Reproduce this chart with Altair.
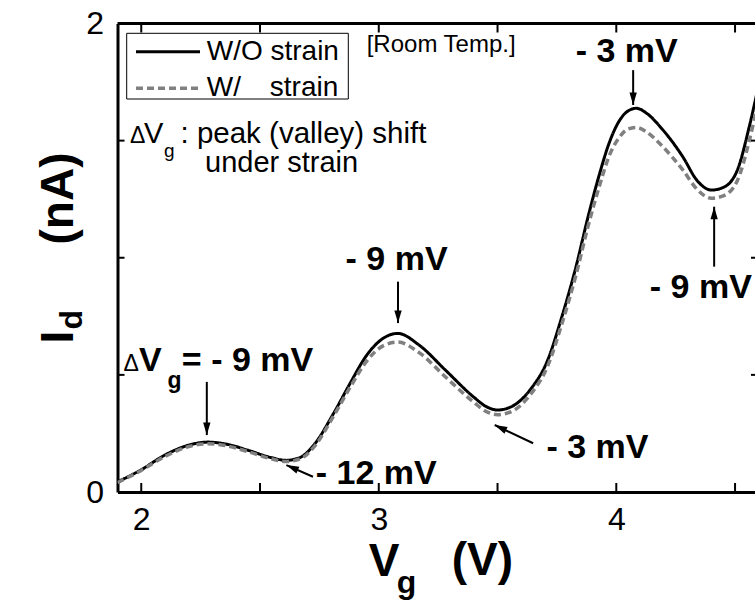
import math
import altair as alt
import pandas as pd

# Gate voltage (V) and drain current (nA), without and with strain
VG = [1.90, 2.00, 2.10, 2.20, 2.28, 2.36, 2.45, 2.55, 2.61, 2.67, 2.73, 2.81,
      2.88, 2.95, 3.02, 3.08, 3.17, 3.28, 3.40, 3.45, 3.50, 3.56, 3.64, 3.71,
      3.77, 3.83, 3.88, 3.93, 3.97, 4.01, 4.05, 4.085, 4.13, 4.19, 4.28, 4.34,
      4.40, 4.45, 4.51, 4.56, 4.60]
ID_NO_STRAIN = [0.043, 0.095, 0.158, 0.200, 0.213, 0.204, 0.178, 0.146, 0.135,
                0.148, 0.205, 0.336, 0.465, 0.585, 0.657, 0.677, 0.627, 0.521,
                0.405, 0.366, 0.350, 0.365, 0.440, 0.560, 0.745, 0.960, 1.170,
                1.360, 1.490, 1.580, 1.627, 1.638, 1.615, 1.553, 1.431, 1.330,
                1.289, 1.300, 1.375, 1.560, 1.740]
ID_STRAIN = [0.040, 0.092, 0.152, 0.194, 0.206, 0.197, 0.172, 0.141, 0.130,
             0.142, 0.196, 0.325, 0.448, 0.560, 0.625, 0.640, 0.595, 0.492,
             0.383, 0.345, 0.330, 0.344, 0.418, 0.535, 0.715, 0.925, 1.130,
             1.310, 1.435, 1.510, 1.550, 1.556, 1.535, 1.480, 1.375, 1.292,
             1.254, 1.264, 1.330, 1.500, 1.680]

SERIES = ["W/O strain", "W/ strain"]

X_TICKS = [2, 2.5, 3, 3.5, 4, 4.5]
X_LABELS = [2, 3, 4]
Y_TICKS = [0.5, 1, 1.5]
Y_LABELS = [0, 1, 2]

# Peak / valley shift arrows: tail (V, I) -> tip (V, I)
ARROW_TAIL_V = [2.276, 3.081, 4.071, 4.412, 3.650, 2.723]
ARROW_TAIL_I = [0.470, 0.898, 1.801, 0.962, 0.208, 0.065]
ARROW_TIP_V = [2.276, 3.081, 4.071, 4.412, 3.488, 2.611]
ARROW_TIP_I = [0.243, 0.721, 1.652, 1.218, 0.286, 0.115]

# ---- layout ----
FONT = "Liberation Sans"
W, H = 637.5, 468.5
X_MIN, X_MAX = 1.9, 4.584
Y_MIN, Y_MAX = 0.0, 2.0
PX_PER_V = W / (X_MAX - X_MIN)
PX_PER_NA = H / (Y_MAX - Y_MIN)

curves = pd.DataFrame({
    "vg": VG * 2,
    "id": ID_NO_STRAIN + ID_STRAIN,
    "series": [SERIES[0]] * len(VG) + [SERIES[1]] * len(VG),
})

x_scale = alt.Scale(domain=[X_MIN, X_MAX], nice=False, zero=False)
y_scale = alt.Scale(domain=[Y_MIN, Y_MAX], nice=False, zero=False)

x_axis = alt.Axis(values=X_LABELS, format="d", title=None, grid=False,
                  ticks=False, tickSize=0, domainColor="black", domainWidth=3,
                  labelFont=FONT, labelFontSize=32, labelColor="black",
                  labelPadding=12, labelOverlap=False)
y_axis = alt.Axis(values=Y_LABELS, format="d", title=None, grid=False,
                  ticks=False, tickSize=0, domainColor="black", domainWidth=3,
                  labelFont=FONT, labelFontSize=32, labelColor="black",
                  labelPadding=14, labelOverlap=False, labelFlush=False)


def curve(name, color, dash, width):
    return alt.Chart(curves[curves.series == name]).mark_line(
        clip=True, color=color, strokeDash=dash, strokeWidth=width,
        interpolate="monotone"
    ).encode(
        x=alt.X("vg:Q", scale=x_scale, axis=x_axis),
        y=alt.Y("id:Q", scale=y_scale, axis=y_axis),
    )


line_plain = curve(SERIES[0], "black", [1, 0], 3)
line_strain = curve(SERIES[1], "#808080", [7, 4], 3.5)

# ---- frame: top spine and inward ticks ----
ONE = pd.DataFrame({"k": [0]})
top_spine = alt.Chart(ONE).mark_rule(color="black", strokeWidth=3).encode(
    x=alt.value(0), x2=alt.value(W), y=alt.value(0))

xt = pd.DataFrame({"t": X_TICKS})
yt = pd.DataFrame({"t": Y_TICKS})
tick_style = dict(color="black", strokeWidth=2)
ticks_bottom = alt.Chart(xt).mark_rule(**tick_style).encode(
    x=alt.X("t:Q", title=None), y=alt.value(H), y2=alt.value(H - 9))
ticks_top = alt.Chart(xt).mark_rule(**tick_style).encode(
    x=alt.X("t:Q", title=None), y=alt.value(0), y2=alt.value(9))
ticks_left = alt.Chart(yt).mark_rule(**tick_style).encode(
    y=alt.Y("t:Q", title=None), x=alt.value(0), x2=alt.value(7))
ticks_right = alt.Chart(yt).mark_rule(**tick_style).encode(
    y=alt.Y("t:Q", title=None), x=alt.value(W - 4), x2=alt.value(W))

# ---- arrows ----
arrows = pd.DataFrame({
    "tv": ARROW_TAIL_V, "ti": ARROW_TAIL_I,
    "hv": ARROW_TIP_V, "hi": ARROW_TIP_I,
})
arrows["ang"] = [
    math.degrees(math.atan2((hv - tv) * PX_PER_V, (hi - ti) * PX_PER_NA)) % 360
    for tv, ti, hv, hi in zip(arrows.tv, arrows.ti, arrows.hv, arrows.hi)
]
arrow_shafts = alt.Chart(arrows).mark_rule(color="black", strokeWidth=2).encode(
    x=alt.X("tv:Q", title=None), y=alt.Y("ti:Q", title=None),
    x2="hv:Q", y2="hi:Q")
arrow_heads = alt.Chart(arrows).mark_point(
    shape="M0,0L0.7,2.4L-0.7,2.4Z", size=110, filled=True, color="black",
    opacity=1, strokeWidth=0
).encode(
    x=alt.X("hv:Q", title=None), y=alt.Y("hi:Q", title=None),
    angle=alt.Angle("ang:Q", scale=None))


# ---- text helpers ----
def text_px(text, x, y, size, bold=False, align="left", angle=0,
            baseline="alphabetic"):
    kw = dict(text=text, font=FONT, fontSize=size, color="black",
              fontWeight="bold" if bold else "normal", align=align,
              baseline=baseline)
    if angle:
        kw["angle"] = angle
    return alt.Chart(ONE).mark_text(**kw).encode(x=alt.value(x), y=alt.value(y))


def text_at(text, v, i, size=34, bold=True, align="center"):
    return alt.Chart(ONE).mark_text(
        text=text, font=FONT, fontSize=size, color="black",
        fontWeight="bold" if bold else "normal", align=align,
        baseline="alphabetic"
    ).encode(x=alt.datum(v), y=alt.datum(i))


shift_labels = [
    text_at("\u0394", 1.925, 0.5165, size=23, align="left", bold=False),
    text_at("V", 1.990, 0.5165, align="left"),
    text_at("g", 2.110, 0.444, size=23, align="left"),
    text_at("= - 9 mV", 2.171, 0.5165, align="left"),
    text_at("- 9 mV", 3.075, 0.948),
    text_at("- 3 mV", 4.044, 1.837),
    text_at("- 9 mV", 4.141, 0.827, align="left"),
    text_at("- 3 mV", 3.706, 0.144, align="left"),
    text_at("- 12 mV", 2.735, 0.034, align="left"),
]

# ---- legend box and notes ----
legend_box = alt.Chart(ONE).mark_rect(
    fill="white", stroke="black", strokeWidth=1
).encode(x=alt.value(9.2), x2=alt.value(230.8), y=alt.value(9.8),
         y2=alt.value(75.5))
legend_solid = alt.Chart(ONE).mark_rule(color="black", strokeWidth=3).encode(
    x=alt.value(18.5), x2=alt.value(82.5), y=alt.value(28.2))
legend_dash = alt.Chart(ONE).mark_rule(
    color="#808080", strokeWidth=3.5, strokeDash=[7, 4]
).encode(x=alt.value(18.5), x2=alt.value(82.5), y=alt.value(64.8))

notes = [
    text_px("W/O strain", 89.2, 28.2, 28, baseline="middle"),
    text_px("W/", 89.2, 64.8, 28, baseline="middle"),
    text_px("strain", 220.8, 64.8, 28, align="right", baseline="middle"),
    text_px("[Room Temp.]", 249.2, 21.5, 24, baseline="middle"),
    text_px("\u0394", 12.5, 119.5, 23),
    text_px("V", 26.5, 119.5, 29),
    text_px("g", 46.5, 133, 19),
    text_px(": peak (valley) shift", 63, 119.5, 29.5),
    text_px("under strain", 87.5, 148.5, 29),
]

# ---- axis titles ----
titles = [
    text_px("V", 266.5, 552.5, 46, bold=True, align="center"),
    text_px("g", 279.2, 569, 32, bold=True),
    text_px("(V)", 334.2, 551.5, 46, bold=True),
    text_px("I", -45, 320, 46, bold=True, angle=270),
    text_px("d", -36, 306, 32, bold=True, angle=270),
    text_px("(nA)", -45, 221, 46, bold=True, angle=270),
]

chart = alt.layer(
    line_plain, line_strain, top_spine,
    ticks_bottom, ticks_top, ticks_left, ticks_right,
    arrow_shafts, arrow_heads,
    legend_box, legend_solid, legend_dash,
    *shift_labels, *notes, *titles,
).properties(
    width=W, height=H,
    autosize=alt.AutoSizeParams(type="none"),
    padding={"left": 117.5, "top": 23.5, "right": 0, "bottom": 111},
    background="white",
).configure_view(stroke=None)

chart.save("out.html", embed_options={"renderer": "svg", "actions": False})
